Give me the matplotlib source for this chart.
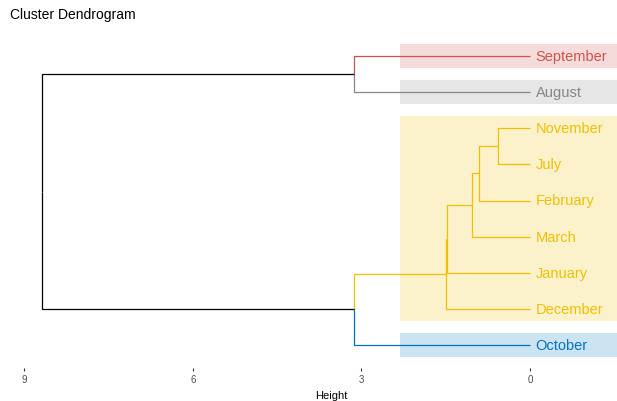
import matplotlib
matplotlib.use("Agg")
import matplotlib.pyplot as plt
from matplotlib.patches import Rectangle

plt.rcParams['font.family'] = ['Liberation Sans', 'DejaVu Sans']

# leaf order top -> bottom
leaves = ["September", "August", "November", "July", "February",
          "March", "January", "December", "October"]
# merges: (left child, right child, height); ints are leaf indices, "nK" are earlier merges
merges = [
    (2, 3, 0.57),         # n0 November + July
    ("n0", 4, 0.91),      # n1 + February
    ("n1", 5, 1.04),      # n2 + March
    ("n2", 6, 1.47),      # n3 + January
    ("n3", 7, 1.50),      # n4 + December
    (0, 1, 3.13),         # n5 September + August
    ("n4", 8, 3.13),      # n6 yellow + October
    ("n5", "n6", 8.68),   # n7 root
]
# cluster of each leaf and colours (jco palette)
leaf_cluster = [0, 1, 2, 2, 2, 2, 2, 2, 3]
cluster_colors = ["#CD534C", "#868686", "#EFC000", "#0073C2"]
cluster_spans = [(0, 0), (1, 1), (2, 7), (8, 8)]
rect_left = 2.31

fig = plt.figure(figsize=(6.17, 4.02), dpi=100)
ax = fig.add_axes([0, 1 - 369 / 402, 1, (369 - 31) / 402])

# pixel -> data mapping: x = (530 - px) / 56.2, y = 1 + (py - 57) / 36.125
ax.set_xlim(530 / 56.2, (530 - 617) / 56.2)
ax.set_ylim(1 + (369 - 57) / 36.125, 1 + (31 - 57) / 36.125)

nodes = {}
for i in range(len(leaves)):
    nodes[i] = (i + 1, 0.0, {leaf_cluster[i]})


def draw_branch(h, y_node, child):
    yc, hc, cl = nodes[child]
    col = cluster_colors[list(cl)[0]] if len(cl) == 1 else "black"
    ax.plot([h, h, hc], [y_node, yc, yc], color=col, lw=0.9, solid_capstyle="butt")


for k, (a, b, h) in enumerate(merges):
    ya = nodes[a][0]
    yb = nodes[b][0]
    y = (ya + yb) / 2
    draw_branch(h, y, a)
    draw_branch(h, y, b)
    nodes["n%d" % k] = (y, h, nodes[a][2] | nodes[b][2])

# cluster rectangles
x_right = ax.get_xlim()[1]
for ci, (s, e) in enumerate(cluster_spans):
    ax.add_patch(Rectangle((rect_left, s + 1 - 0.34), x_right - rect_left,
                           (e - s) + 0.68, facecolor=cluster_colors[ci],
                           alpha=0.2, edgecolor="none", zorder=0))

for i, name in enumerate(leaves):
    ax.text(-0.1, i + 1, name, color=cluster_colors[leaf_cluster[i]],
            fontsize=10.5, va="center", ha="left")

for sp in ax.spines.values():
    sp.set_visible(False)
ax.set_yticks([])
ax.set_xticks([9, 6, 3, 0])
ax.set_xticklabels(["9", "6", "3", "0"])
ax.tick_params(axis="x", length=2.5, width=0.8, color="#333333",
               labelsize=7, labelcolor="#4D4D4D", pad=2)
ax.set_xlabel("Height", fontsize=8)
ax.xaxis.set_label_coords(331 / 617, -22 / 338)

fig.text(10 / 617, 1 - 15 / 402, "Cluster Dendrogram", fontsize=10,
         va="center", ha="left")

fig.savefig("out.png", dpi=100)
